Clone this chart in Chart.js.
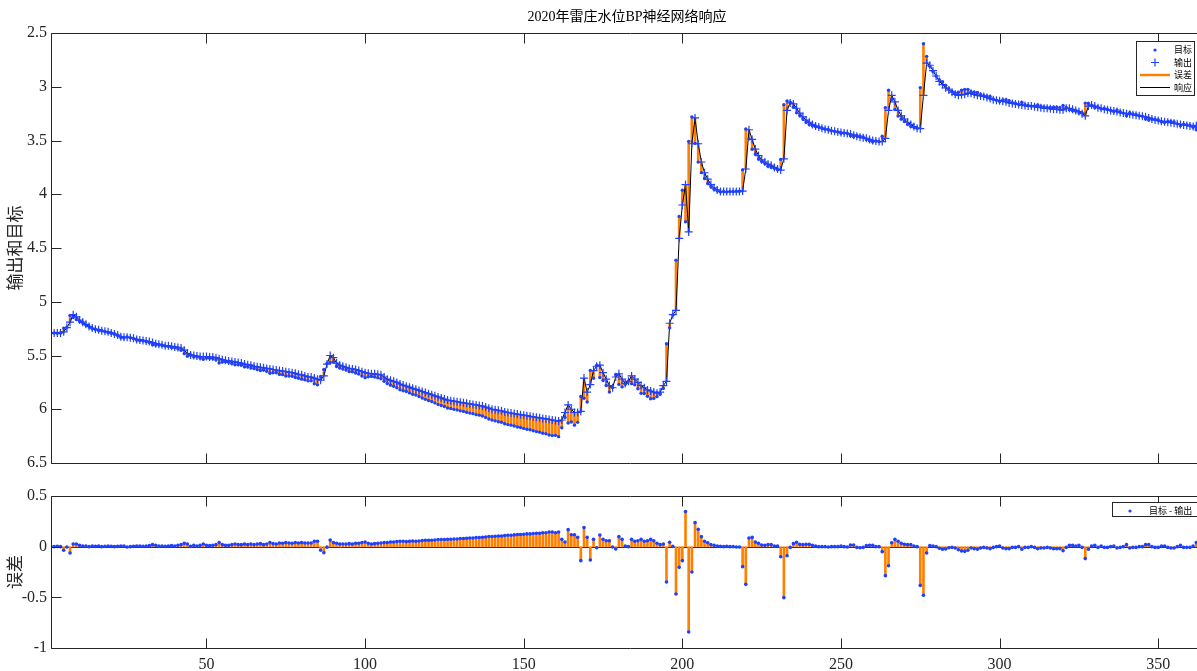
<!DOCTYPE html>
<html>
<head>
<meta charset="utf-8">
<script src="https://cdn.jsdelivr.net/npm/chart.js@4.4.0/dist/chart.umd.min.js"></script>
<style>
    html, body { margin: 0; padding: 0; background: #fff; overflow: hidden; }
    #wrap { position: relative; width: 1197px; height: 671px; overflow: hidden; }
    #respChart { position: absolute; left: 0; top: 0; }
    #errChart { position: absolute; left: 0; top: 480px; }
</style>
</head>
<body>
<div id="wrap">
    <canvas id="respChart" width="1220" height="480"></canvas>
    <canvas id="errChart" width="1220" height="191"></canvas>
</div>
<script>
// network output (输出), one value per day of 2020
var output = [
    5.29, 5.29, 5.29, 5.29, 5.28, 5.24, 5.19, 5.12, 5.14, 5.17,
    5.19, 5.21, 5.23, 5.245, 5.255, 5.26, 5.27, 5.275, 5.28, 5.29,
    5.30, 5.31, 5.325, 5.33, 5.33, 5.335, 5.34, 5.35, 5.355, 5.36,
    5.365, 5.37, 5.38, 5.39, 5.395, 5.40, 5.41, 5.41, 5.415, 5.42,
    5.425, 5.43, 5.45, 5.48, 5.495, 5.50, 5.505, 5.51, 5.51, 5.51,
    5.515, 5.515, 5.52, 5.53, 5.54, 5.545, 5.55, 5.555, 5.56, 5.565,
    5.57, 5.58, 5.585, 5.59, 5.60, 5.605, 5.61, 5.615, 5.62, 5.625,
    5.63, 5.635, 5.64, 5.645, 5.65, 5.655, 5.66, 5.665, 5.675, 5.68,
    5.69, 5.70, 5.70, 5.71, 5.72, 5.73, 5.69, 5.58, 5.50, 5.52,
    5.57, 5.59, 5.60, 5.61, 5.62, 5.625, 5.63, 5.64, 5.65, 5.66,
    5.665, 5.67, 5.67, 5.675, 5.68, 5.70, 5.72, 5.73, 5.74, 5.75,
    5.765, 5.775, 5.785, 5.795, 5.805, 5.815, 5.825, 5.835, 5.845, 5.855,
    5.865, 5.875, 5.885, 5.895, 5.905, 5.915, 5.92, 5.925, 5.93, 5.935,
    5.94, 5.945, 5.95, 5.955, 5.96, 5.965, 5.97, 5.98, 5.99, 6.00,
    6.005, 6.01, 6.015, 6.025, 6.03, 6.035, 6.04, 6.045, 6.05, 6.055,
    6.06, 6.065, 6.07, 6.075, 6.08, 6.085, 6.09, 6.095, 6.10, 6.105,
    6.11, 6.10, 6.03, 5.96, 6.00, 6.03, 6.03, 6.02, 5.71, 5.84,
    5.77, 5.64, 5.60, 5.59, 5.66, 5.72, 5.78, 5.80, 5.70, 5.67,
    5.72, 5.76, 5.74, 5.69, 5.72, 5.75, 5.78, 5.80, 5.82, 5.83,
    5.84, 5.85, 5.84, 5.78, 5.74, 5.20, 5.12, 5.08, 4.41, 4.10,
    3.91, 4.35, 3.53, 3.29, 3.53, 3.70, 3.80, 3.86, 3.91, 3.94,
    3.96, 3.975, 3.975, 3.975, 3.975, 3.975, 3.975, 3.975, 3.97, 3.765,
    3.40, 3.49, 3.58, 3.64, 3.68, 3.70, 3.72, 3.73, 3.75, 3.765,
    3.775, 3.67, 3.22, 3.15, 3.16, 3.20, 3.245, 3.28, 3.31, 3.33,
    3.35, 3.365, 3.375, 3.385, 3.395, 3.40, 3.41, 3.415, 3.42, 3.425,
    3.43, 3.435, 3.44, 3.45, 3.46, 3.47, 3.475, 3.48, 3.49, 3.50,
    3.505, 3.51, 3.51, 3.48, 3.22, 3.08, 3.14, 3.22, 3.27, 3.30,
    3.33, 3.35, 3.37, 3.385, 3.39, 3.08, 2.78, 2.80, 2.85, 2.90,
    2.95, 2.98, 3.01, 3.03, 3.05, 3.07, 3.08, 3.075, 3.07, 3.06,
    3.06, 3.07, 3.08, 3.085, 3.09, 3.10, 3.11, 3.12, 3.125, 3.13,
    3.135, 3.14, 3.15, 3.155, 3.16, 3.165, 3.17, 3.175, 3.18, 3.18,
    3.185, 3.19, 3.195, 3.20, 3.20, 3.205, 3.21, 3.21, 3.215, 3.215,
    3.20, 3.20, 3.21, 3.22, 3.23, 3.25, 3.27, 3.18, 3.17, 3.18,
    3.195, 3.20, 3.21, 3.215, 3.22, 3.225, 3.23, 3.24, 3.245, 3.25,
    3.255, 3.26, 3.265, 3.27, 3.275, 3.28, 3.29, 3.30, 3.31, 3.315,
    3.32, 3.325, 3.33, 3.335, 3.34, 3.345, 3.35, 3.355, 3.36, 3.365,
    3.37, 3.36, 3.38, 3.385, 3.39, 3.39
];

// error (目标 - 输出), one value per day
var errors = [
    0, 0, 0.003, 0, -0.035, -0.003, -0.063, 0.026, 0.026, 0.013,
    0.007, 0.007, 0, 0.007, 0.003, 0.007, 0, 0.003, 0.007, 0.003,
    0, 0.003, 0.007, 0.007, -0.003, 0, 0.003, 0.007, 0.007, 0.003,
    0.007, 0.01, 0.02, 0.013, 0.007, 0.007, 0.003, 0.007, 0.01, 0.007,
    0.013, 0.02, 0.033, 0.026, 0.003, 0.013, 0.007, 0.013, 0.026, 0.013,
    0.01, 0.013, 0.02, 0.04, 0.02, 0.013, 0.013, 0.02, 0.026, 0.02,
    0.02, 0.026, 0.02, 0.026, 0.02, 0.026, 0.03, 0.02, 0.026, 0.04,
    0.03, 0.026, 0.036, 0.033, 0.04, 0.036, 0.033, 0.04, 0.036, 0.04,
    0.036, 0.036, 0.036, 0.053, 0.053, -0.035, -0.06, -0.005, 0.065, 0.04,
    0.033, 0.026, 0.026, 0.026, 0.03, 0.026, 0.033, 0.033, 0.04, 0.046,
    0.033, 0.026, 0.03, 0.033, 0.036, 0.04, 0.04, 0.046, 0.046, 0.05,
    0.053, 0.053, 0.05, 0.053, 0.056, 0.053, 0.056, 0.06, 0.063, 0.063,
    0.063, 0.066, 0.07, 0.07, 0.07, 0.073, 0.073, 0.076, 0.076, 0.08,
    0.08, 0.083, 0.086, 0.086, 0.09, 0.09, 0.093, 0.096, 0.1, 0.1,
    0.103, 0.106, 0.106, 0.11, 0.113, 0.113, 0.116, 0.12, 0.12, 0.123,
    0.126, 0.126, 0.13, 0.133, 0.133, 0.138, 0.138, 0.145, 0.145, 0.138,
    0.145, 0.072, 0.046, 0.168, 0.118, 0.118, 0.092, -0.138, 0.188, 0.092,
    -0.132, 0.072, -0.01, 0.115, 0.072, 0.059, 0.059, -0.003, -0.023, 0.099,
    0.072, 0.007, 0, 0.072, 0.053, 0.059, 0.072, 0.053, 0.059, 0.072,
    0.059, 0.033, 0.02, 0.026, -0.349, 0.043, 0.003, -0.467, -0.204, -0.138,
    0.346, -0.842, -0.25, 0.237, 0.171, 0.099, 0.053, 0.039, 0.02, 0.013,
    0.007, 0.003, 0, 0.003, 0, 0, -0.003, -0.003, -0.197, -0.372,
    0.086, 0.092, 0.046, 0.033, 0.016, 0.013, 0.02, 0.02, 0.007, 0.007,
    -0.099, -0.503, -0.089, -0.007, 0.03, 0.043, 0.023, 0.02, 0.023, 0.023,
    0.013, 0.007, 0, 0, 0, -0.003, 0, 0, 0, 0.007,
    0, -0.003, 0.016, 0.016, -0.007, -0.01, -0.007, 0.01, 0.013, 0.013,
    0, 0, -0.049, -0.286, -0.188, 0.039, 0.072, 0.053, 0.033, 0.023,
    0.02, 0.02, 0.007, 0, -0.382, -0.48, -0.063, 0.01, 0.007, 0,
    -0.016, -0.026, -0.023, -0.01, -0.007, -0.013, -0.03, -0.043, -0.046, -0.036,
    -0.013, -0.02, -0.026, -0.013, -0.007, -0.013, -0.02, -0.007, 0, 0.007,
    -0.013, -0.02, -0.02, -0.007, -0.007, 0, -0.026, -0.007, -0.007, 0,
    -0.007, -0.02, -0.013, -0.013, -0.007, -0.013, -0.02, -0.02, -0.02, -0.04,
    -0.007, 0.013, 0.013, 0.007, 0.013, -0.007, -0.118, -0.026, 0.007, 0.013,
    -0.007, 0.007, -0.007, -0.007, 0, 0.007, -0.013, -0.007, 0, 0.02,
    -0.013, -0.007, -0.007, 0, 0, 0.02, 0.02, 0, -0.007, -0.007,
    0.007, 0.007, -0.007, -0.013, -0.013, 0, 0.013, -0.007, -0.007, -0.007,
    0.007, 0.04, 0, 0, 0, 0
];

var days = output.map(function (v, i) { return i + 1; });
// target (目标) = output + error
var target = output.map(function (v, i) { return Math.round((v + errors[i]) * 1000) / 1000; });

var xTicks = [50, 100, 150, 200, 250, 300, 350];
var yTicksResp = [2.5, 3, 3.5, 4, 4.5, 5, 5.5, 6, 6.5];
var yTicksErr = [-1, -0.5, 0, 0.5];

var BLUE = 'rgb(30,64,255)';
var ORANGE = 'rgb(255,128,0)';
var AXIS = '#262626';
var SERIF = '"Liberation Serif", "Times New Roman", serif';
var CJK = '"Liberation Serif", "Noto Sans CJK SC", serif';

function pts(ys) {
    return days.map(function (d, i) { return { x: d, y: ys[i] }; });
}

function plainLabel(v) {
    return String(v);
}

// box round the axes with inward ticks on all four sides, MATLAB style
var framePlugin = {
    id: 'frame',
    beforeDatasetsDraw: function (chart, args, opts) {
        if (!opts.zero) return;
        var ctx = chart.ctx, a = chart.chartArea;
        var py = Math.round(chart.scales.y.getPixelForValue(0)) + 0.5;
        ctx.save();
        ctx.strokeStyle = '#333';
        ctx.lineWidth = 1;
        ctx.beginPath();
        ctx.moveTo(a.left, py);
        ctx.lineTo(a.right, py);
        ctx.stroke();
        ctx.restore();
    },
    afterDatasetsDraw: function (chart, args, opts) {
        var ctx = chart.ctx, a = chart.chartArea;
        var xs = chart.scales.x, ys = chart.scales.y;
        var L = Math.round(a.left) + 0.5, T = Math.round(a.top) + 0.5;
        var R = Math.round(a.right) + 0.5, B = Math.round(a.bottom) + 0.5;
        ctx.save();
        ctx.strokeStyle = AXIS;
        ctx.lineWidth = 1;
        ctx.beginPath();
        ctx.rect(L, T, R - L, B - T);
        xTicks.forEach(function (v) {
            var px = Math.round(xs.getPixelForValue(v)) + 0.5;
            ctx.moveTo(px, T); ctx.lineTo(px, T + 10);
            ctx.moveTo(px, B); ctx.lineTo(px, B - 10);
        });
        opts.yTicks.forEach(function (v) {
            var py = Math.round(ys.getPixelForValue(v)) + 0.5;
            ctx.moveTo(L, py); ctx.lineTo(L + 10, py);
            ctx.moveTo(R, py); ctx.lineTo(R - 10, py);
        });
        ctx.stroke();
        ctx.restore();
    }
};

// title and boxed legend drawn inside the axes
var annotPlugin = {
    id: 'annot',
    afterDraw: function (chart, args, opts) {
        var ctx = chart.ctx, a = chart.chartArea;
        ctx.save();
        if (opts.title) {
            ctx.fillStyle = '#000';
            ctx.font = '14px ' + CJK;
            ctx.textAlign = 'center';
            ctx.textBaseline = 'middle';
            ctx.fillText(opts.title, (a.left + a.right) / 2 - 3, 17);
        }
        var lg = opts.legend;
        if (lg) {
            ctx.fillStyle = '#fff';
            ctx.fillRect(lg.x, lg.y, lg.w, lg.h);
            ctx.strokeStyle = AXIS;
            ctx.lineWidth = 1;
            ctx.strokeRect(lg.x + 0.5, lg.y + 0.5, lg.w, lg.h);
            ctx.font = '9px "Noto Sans CJK SC", sans-serif';
            ctx.textAlign = 'left';
            ctx.textBaseline = 'middle';
            lg.items.forEach(function (it, i) {
                var cy = lg.y + 9 + i * 12.5;
                var ix = lg.x + lg.iconX;
                ctx.strokeStyle = it.color;
                ctx.fillStyle = it.color;
                if (it.kind === 'dot') {
                    ctx.beginPath();
                    ctx.arc(ix, cy, 1.6, 0, Math.PI * 2);
                    ctx.fill();
                } else if (it.kind === 'cross') {
                    ctx.lineWidth = 1.2;
                    ctx.beginPath();
                    ctx.moveTo(ix - 4, cy); ctx.lineTo(ix + 4, cy);
                    ctx.moveTo(ix, cy - 4); ctx.lineTo(ix, cy + 4);
                    ctx.stroke();
                } else {
                    ctx.lineWidth = it.width;
                    ctx.beginPath();
                    ctx.moveTo(ix - 15, cy); ctx.lineTo(ix + 15, cy);
                    ctx.stroke();
                }
                ctx.fillStyle = '#000';
                ctx.fillText(it.text, lg.x + lg.textX, cy);
            });
        }
        ctx.restore();
    }
};

function baseScales(yMin, yMax, yTicks, yTitle, reverse, showX) {
    return {
        x: {
            type: 'linear', min: 1, max: 366, offset: false,
            grid: { display: false, drawTicks: false },
            border: { display: false },
            ticks: { display: showX, color: AXIS, font: { family: SERIF, size: 16 }, padding: 7, maxRotation: 0, callback: plainLabel },
            afterBuildTicks: function (s) { s.ticks = xTicks.map(function (v) { return { value: v }; }); },
            afterFit: function (s) { s.height = showX ? 23 : 0; }
        },
        y: {
            type: 'linear', min: yMin, max: yMax, reverse: reverse,
            grid: { display: false, drawTicks: false },
            border: { display: false },
            ticks: { color: AXIS, font: { family: SERIF, size: 16 }, padding: 4, autoSkip: false, callback: plainLabel },
            afterBuildTicks: function (s) { s.ticks = yTicks.map(function (v) { return { value: v }; }); },
            title: { display: true, text: yTitle, color: AXIS, font: { family: CJK, size: 17 }, padding: { top: 6, bottom: 0 } },
            afterFit: function (s) { s.width = 51; }
        }
    };
}

function CreateResponseChart(element) {
    var ctx = document.querySelector(element);
    return new Chart(ctx, {
        type: 'line',
        data: {
            datasets: [{
                type: 'bar',
                label: '误差',
                data: days.map(function (d, i) { return { x: d, y: [output[i], target[i]] }; }),
                backgroundColor: ORANGE,
                borderWidth: 0,
                barThickness: 2,
                grouped: false,
                order: 4
            }, {
                label: '响应',
                data: pts(output),
                borderColor: '#000',
                borderWidth: 1,
                pointRadius: 0,
                tension: 0,
                order: 3
            }, {
                label: '输出',
                data: pts(output),
                showLine: false,
                pointStyle: 'cross',
                pointRadius: 4,
                borderColor: BLUE,
                borderWidth: 1.2,
                order: 2
            }, {
                label: '目标',
                data: pts(target),
                showLine: false,
                pointStyle: 'circle',
                pointRadius: 1.7,
                backgroundColor: BLUE,
                borderWidth: 0,
                order: 1
            }]
        },
        options: {
            responsive: false,
            animation: false,
            events: [],
            layout: { padding: { left: 0, top: 33, right: 11, bottom: 17 } },
            scales: baseScales(2.5, 6.5, yTicksResp, '输出和目标', true, false),
            plugins: {
                legend: { display: false },
                tooltip: { enabled: false },
                frame: { yTicks: yTicksResp, zero: false },
                annot: {
                    title: '2020年雷庄水位BP神经网络响应',
                    legend: {
                        x: 1136, y: 41, w: 58, h: 54, iconX: 19, textX: 38,
                        items: [
                            { kind: 'dot', color: BLUE, text: '目标' },
                            { kind: 'cross', color: BLUE, text: '输出' },
                            { kind: 'line', color: ORANGE, width: 2.5, text: '误差' },
                            { kind: 'line', color: '#000', width: 1, text: '响应' }
                        ]
                    }
                }
            }
        },
        plugins: [framePlugin, annotPlugin]
    });
}

function CreateErrorChart(element) {
    var ctx = document.querySelector(element);
    return new Chart(ctx, {
        type: 'line',
        data: {
            datasets: [{
                type: 'bar',
                label: '误差',
                data: pts(errors),
                backgroundColor: ORANGE,
                borderWidth: 0,
                barThickness: 2,
                grouped: false,
                order: 2
            }, {
                label: '目标 - 输出',
                data: pts(errors),
                showLine: false,
                pointStyle: 'circle',
                pointRadius: 1.8,
                backgroundColor: BLUE,
                borderWidth: 0,
                order: 1
            }]
        },
        options: {
            responsive: false,
            animation: false,
            events: [],
            layout: { padding: { left: 0, top: 16, right: 11, bottom: 0 } },
            scales: baseScales(-1, 0.5, yTicksErr, '误差', false, true),
            plugins: {
                legend: { display: false },
                tooltip: { enabled: false },
                frame: { yTicks: yTicksErr, zero: true },
                annot: {
                    legend: {
                        x: 1112, y: 22, w: 85, h: 14, iconX: 18, textX: 37,
                        items: [
                            { kind: 'dot', color: BLUE, text: '目标 - 输出' }
                        ]
                    }
                }
            }
        },
        plugins: [framePlugin, annotPlugin]
    });
}

CreateResponseChart('#respChart');
CreateErrorChart('#errChart');
</script>
</body>
</html>
